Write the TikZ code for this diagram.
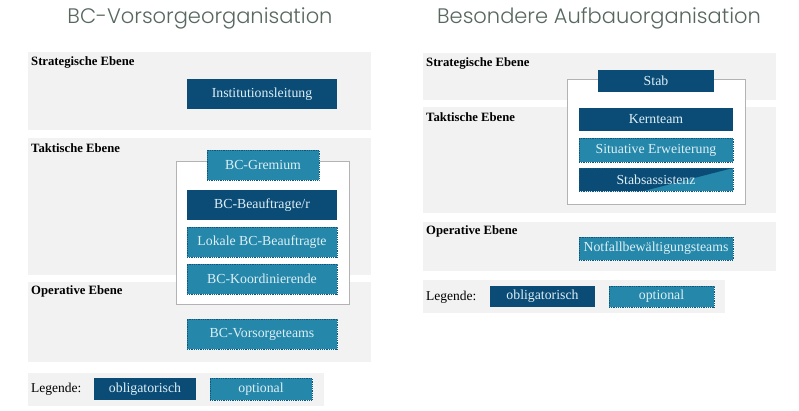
\documentclass[tikz,border=0pt]{standalone}
\usepackage{fontspec}
\setmainfont{Liberation Serif}
\newfontfamily\titlefont{Poppins}[UprightFont=* Light]
\usetikzlibrary{calc}
\definecolor{oblig}{HTML}{0B4C77}
\definecolor{optio}{HTML}{2587AA}
\definecolor{boxtext}{HTML}{DDEFF6}
\definecolor{bandgray}{HTML}{F2F2F2}
\definecolor{framegray}{HTML}{B3B3B3}
\definecolor{titlegray}{HTML}{57685F}
\definecolor{dotblue}{HTML}{0D567D}
\begin{document}
\begin{tikzpicture}[x=1pt,y=-1pt,
  band/.style={fill=bandgray},
  level/.style={anchor=west,inner sep=0pt,font=\fontsize{12.7}{14}\selectfont\bfseries},
  legtext/.style={anchor=west,inner sep=0pt,font=\fontsize{13.5}{15}\selectfont},
  heading/.style={inner sep=0pt,text=titlegray,font=\titlefont\fontsize{21}{24}\selectfont},
  oblbox/.style={fill=oblig,text=boxtext,inner sep=0pt,font=\fontsize{13.8}{15}\selectfont},
  optbox/.style={oblbox,fill=optio,draw=dotblue,densely dotted,line width=0.8pt},
  frame/.style={fill=white,draw=framegray,line width=0.8pt}]
\useasboundingbox (0,0) rectangle (799,410);
\fill[white] (0,0) rectangle (799,410);

% BC-Vorsorgeorganisation
\node[heading] (titleL) at (200,18) {BC-Vorsorgeorganisation};
\fill[band] (28,52) rectangle (371,130);
\fill[band] (28,138) rectangle (371,275);
\fill[band] (28,282) rectangle (371,362);
\fill[band] (28,373) rectangle (324,406);
\node[level] (stratL) at (31,62) {Strategische Ebene};
\node[level] (taktL) at (31,148) {Taktische Ebene};
\node[level] (operL) at (31,291) {Operative Ebene};
\node[legtext] (legL) at (31,389) {Legende:};
\draw[frame] (176,161) rectangle (349,304);
\node[oblbox,minimum width=150,minimum height=30] (inst) at (262,94) {Institutionsleitung};
\node[optbox,minimum width=112,minimum height=30] (gremium) at (263,165) {BC-Gremium};
\node[oblbox,minimum width=150,minimum height=30] (beauf) at (262,205) {BC-Beauftragte/r};
\node[optbox,minimum width=150,minimum height=30] (lokal) at (262,242) {Lokale BC-Beauftragte};
\node[optbox,minimum width=150,minimum height=30] (koord) at (262,279) {BC-Koordinierende};
\node[optbox,minimum width=150,minimum height=30] (vteams) at (262,334) {BC-Vorsorgeteams};
\node[oblbox,minimum width=102,minimum height=22] (oblL) at (145,389) {obligatorisch};
\node[optbox,minimum width=102,minimum height=22] (optL) at (261,389) {optional};

% Besondere Aufbauorganisation
\node[heading] (titleR) at (599,18) {Besondere Aufbauorganisation};
\fill[band] (423,53) rectangle (776,100);
\fill[band] (423,107) rectangle (776,213);
\fill[band] (423,222) rectangle (776,271);
\fill[band] (423,280) rectangle (725,313);
\node[level] (stratR) at (426,63) {Strategische Ebene};
\node[level] (taktR) at (426,117) {Taktische Ebene};
\node[level] (operR) at (426,231) {Operative Ebene};
\node[legtext] (legR) at (426,297) {Legende:};
\draw[frame] (567,79) rectangle (745,204);
\node[oblbox,minimum width=116,minimum height=22] (stab) at (656,81) {Stab};
\node[oblbox,minimum width=154,minimum height=23] (kern) at (656,119.5) {Kernteam};
\node[optbox,minimum width=154,minimum height=24] (situ) at (656,150) {Situative Erweiterung};
\node[optbox,minimum width=154,minimum height=23,
  path picture={\fill[oblig] (path picture bounding box.north west)
    -- (path picture bounding box.north east)
    -- ($(path picture bounding box.south west)!0.42!(path picture bounding box.south east)$)
    -- (path picture bounding box.south west) -- cycle;}] (assist) at (656,179.5) {Stabsassistenz};
\node[optbox,minimum width=154,minimum height=23] (notfall) at (656,248.5) {Notfallbewältigungsteams};
\node[oblbox,minimum width=105,minimum height=21] (oblR) at (542.5,296.5) {obligatorisch};
\node[optbox,minimum width=105,minimum height=21] (optR) at (661.5,296.5) {optional};
\end{tikzpicture}
\end{document}
